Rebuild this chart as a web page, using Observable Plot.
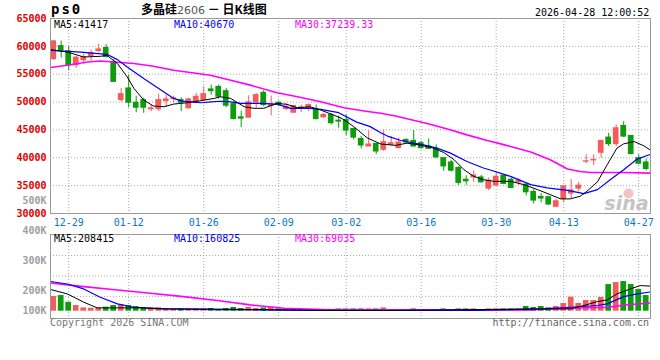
<!DOCTYPE html>
<html><head><meta charset="utf-8">
<script src="https://cdn.jsdelivr.net/npm/d3@7"></script>
<script src="https://cdn.jsdelivr.net/npm/@observablehq/plot@0.6"></script>
<style>
body{margin:0;background:#fff}
#wrap{position:relative;width:660px;height:360px;overflow:hidden;background:#fff;font-family:"DejaVu Sans Mono",monospace;font-size:10px}
.abs{position:absolute;white-space:nowrap;line-height:1}
.panel{position:absolute;left:0}
</style></head><body><div id="wrap"></div>
<script>
// ---- data ----
const dates = ["12-25","12-26","12-29","12-30","12-31",
"01-05","01-06","01-07","01-08","01-09","01-12","01-13","01-14","01-15","01-16",
"01-19","01-20","01-21","01-22","01-23","01-26","01-27","01-28","01-29","01-30",
"02-02","02-03","02-04","02-05","02-06","02-09","02-10","02-11","02-12","02-13",
"02-24","02-25","02-26","02-27",
"03-02","03-03","03-04","03-05","03-06","03-09","03-10","03-11","03-12","03-13",
"03-16","03-17","03-18","03-19","03-20","03-23","03-24","03-25","03-26","03-27",
"03-30","03-31","04-01","04-02","04-03","04-07","04-08","04-09","04-10",
"04-13","04-14","04-15","04-16","04-17","04-20","04-21","04-22","04-23","04-24",
"04-27","04-28"];
const open = [57680,60050,59110,56610,57500,58270,59160,59700,57200,50360,
52450,49880,50360,48700,48700,50180,50540,50360,48880,49880,
50360,52270,52730,51960,49640,47270,47200,49950,51660,49290,
49880,48750,48090,48880,48880,48700,47270,47680,46670,46790,
45180,43390,42020,42500,41430,42320,41730,43210,43040,42620,
42020,41610,39940,39170,38160,36070,36480,36480,34460,35030,
36790,36070,35590,35180,33870,32980,32920,31200,32620,33570,
34460,39300,39520,40900,43630,42440,45710,43930,39940,39170];
const high = [61070,60950,60000,58210,58570,59290,60360,60300,57620,52450,
54820,51070,50660,49460,51430,51250,51070,50770,50660,51550,
52730,53040,53040,52450,50060,48390,51130,51550,52020,51070,
50180,49770,49350,49460,49640,49460,47980,47980,47500,47680,
45300,43800,44820,42560,45000,43800,43520,43390,44880,42910,
43390,42320,39940,39520,38450,36790,37680,36840,36370,37260,
36960,36370,36250,35480,34290,33570,33100,32500,35000,36070,
35590,40540,40540,43040,44410,45890,46490,43930,40540,39760];
const low = [57500,57910,55590,56020,56790,57380,58800,57910,53620,49950,
48980,48090,47980,48270,48270,49050,49880,48270,48750,49770,
50240,51250,50540,48980,46790,45410,47200,48930,49160,47550,
49160,48480,47980,48090,48270,46790,47090,45890,45300,43990,
43210,41610,42020,40540,41130,42200,41610,42500,41910,41550,
41550,39940,37560,37440,35050,35050,35590,35480,34110,34880,
35180,34460,35050,33210,31730,31910,31430,31020,31910,32620,
33870,38930,38570,39940,42020,42020,43630,40540,38750,37680];
const close = [60890,59290,56610,57980,58090,58800,59460,58090,53620,51430,
49880,48980,48980,48880,50360,50480,50660,49880,50480,50950,
51430,51960,50950,49340,46960,47020,49950,51250,49460,49460,
49460,49160,49290,49050,49460,46960,47680,46200,46490,44880,
43630,42200,42380,41130,42800,42620,42740,42740,42020,41730,
41610,40060,38450,37680,35480,35770,36840,35590,35890,36600,
35300,34580,35890,33800,32320,32680,31610,32200,34880,34160,
35000,39370,39640,43040,42440,45300,43800,40660,38930,37980];
const volume = [118500,126600,72600,46000,26600,24200,26600,32300,46000,54000,
46000,37900,26600,26600,26600,18500,18500,18500,18500,18500,
18500,21800,13700,21800,29800,21800,29800,21800,26600,29800,
18500,13000,14000,12000,13000,15000,12000,15000,18500,18500,
18500,18500,18500,18500,26600,10500,10500,11000,18500,11000,
11000,11000,18500,10500,18500,18500,18500,10500,18500,18500,
18500,18500,18500,37900,29800,37900,26600,37900,62100,112900,
62100,86300,86300,110500,215300,231500,239500,215300,175000,126600];

// moving averages: [candle index, value]
const ma5Price = [[-0.4,59410],[1.8,58980],[4,58090],[6.2,58210],[7.1,58390],[8.5,56910],[9.8,54520],[10.7,52450],[12,50360],[13.3,49290],[14.7,49160],[16,49640],[17.8,49880],[19.6,50240],[21.4,50660],[22.2,50950],[23.6,50660],[25.4,49160],[26.7,48880],[28,48880],[29.8,49770],[31.1,49590],[32.5,48980],[34.2,49160],[35.6,48570],[37.3,47680],[38.5,47000],[40,45600],[41.8,43570],[43.6,42470],[45.6,42230],[47.1,42620],[48.7,42320],[50.5,41800],[52,40950],[53.4,39640],[54.7,37860],[56,36660],[57.3,36070],[58.7,35770],[60.9,35770],[62.7,35180],[64.5,34290],[66.2,33390],[67.6,32620],[68.9,32620],[70.2,33100],[71.1,33990],[72.5,35680],[73.8,38750],[75.1,41730],[76,42500],[77.4,42910],[78.7,42140],[79.5,41420]];
const ma10Price = [[-0.4,59290],[3.6,58980],[7.1,58570],[8.5,57620],[9.8,56300],[12,54230],[14.2,52270],[16,50660],[17.1,50180],[19.6,49880],[21,50050],[22.2,50150],[23.6,50050],[24.9,49770],[27.6,49770],[29.8,49640],[31.6,48880],[34.2,48880],[35.6,48700],[38,48100],[40.4,46400],[42.2,45590],[43.6,44500],[44.5,43900],[46.2,43150],[48,42620],[49.3,42320],[51.1,41730],[52.9,40840],[55.1,39340],[57.3,38160],[58.2,37800],[60.9,36660],[63.6,35180],[65.8,34590],[68.5,34160],[70.7,33570],[72.5,34290],[74.2,36070],[76,37860],[77.8,39770],[79.5,40600]];
const ma30Price = [[-0.4,56200],[1.8,56600],[4.5,57200],[6.2,57380],[8,57200],[10.7,56910],[13.3,56430],[16,55710],[18.7,55230],[20.9,54820],[23.6,53930],[26.2,53040],[29.8,51660],[32.5,50950],[35.6,50050],[38.7,48980],[41.4,48400],[43.6,47980],[45.6,47500],[47.4,46910],[49.8,46150],[52.5,45180],[55.1,44110],[57.8,43090],[59.6,42500],[60.9,42020],[63.6,41020],[66.2,39640],[68.5,37980],[70.2,37550],[71.6,37370],[76,37370],[79.5,37240]];
const ma5Vol = [[-0.4,175000],[1.8,140000],[4,73000],[5.8,27000],[8.5,27000],[11.6,27000],[14.2,18500],[19.6,18500],[30.7,10500],[34.7,6000],[45.8,6000],[64.9,18500],[68.9,18500],[70.7,46000],[72.5,78000],[73.8,91000],[75.1,140000],[76.9,180000],[78.2,207000],[79.5,203000]];
const ma10Vol = [[-0.4,240000],[1.8,220000],[4,180000],[6.2,113000],[8.5,59000],[10.7,32000],[15.1,18500],[19.6,13700],[36.9,6000],[56.5,6000],[59.1,10500],[65.3,18500],[68.9,32000],[72.5,46000],[73.8,59000],[76,118000],[77.8,140000],[79.5,155000]];
const ma30Vol = [[-0.4,228000],[4,199000],[8.5,172000],[12.9,145000],[17.3,118000],[21.8,86000],[26.2,51000],[30.7,24000],[36.9,10500],[63.6,10500],[65.3,18500],[68.9,24000],[73.8,32000],[74.7,38000],[76.9,54000],[79.5,66000]];

const priceTicks = [30000,35000,40000,45000,50000,55000,60000,65000];
const priceGrid = [35000,40000,45000,50000,55000,60000];
const tickLabels = ["12-29","01-12","01-26","02-09","03-02","03-16","03-30","04-13","04-27"];
const volTicks = [100000,200000,300000,400000,500000];
const volGrid = [120000,285000,450000];
const priceLegend = ["MA5:41417","MA10:40670","MA30:37239.33"];
const volLegend = ["MA5:208415","MA10:160825","MA30:69035"];
const header = {code:"ps0", name:"多晶硅", contract:"2606", kind:"日K线图", time:"2026-04-28 12:00:52"};
const footer = ["Copyright 2026 SINA.COM","http://finance.sina.com.cn"];

// ---- styles ----
const RED = "#f65b5b", GREEN = "#0c9c0c";
const GRID = {stroke:"#a8a8a8", strokeOpacity:1, strokeDasharray:"1,2"};
const FONT = {fontFamily:"'DejaVu Sans Mono', monospace", fontSize:"10px", background:"transparent", overflow:"visible"};
const xDomain = [-0.427, 79.573];

const candles = dates.map((d,i)=>({i, date:d, open:open[i], high:high[i], low:low[i], close:close[i], vol:volume[i]}));
const col = d => d.close >= d.open ? RED : GREEN;
const tickIdx = tickLabels.map(t => dates.indexOf(t));
const fmtDate = i => dates[i];

const wrap = document.getElementById("wrap");
function place(el, top, left){ const d=document.createElement("div"); d.className="panel"; d.style.top=top+"px"; d.style.left=(left||0)+"px"; d.appendChild(el); wrap.appendChild(d); }
function txt(html, css){ const d=document.createElement("div"); d.className="abs"; d.style.cssText+=css; d.innerHTML=html; wrap.appendChild(d); }

// ---- main price panel ----
const main = Plot.plot({
  width:660, height:232, marginTop:18, marginBottom:19, marginLeft:50, marginRight:10,
  style: FONT,
  x:{domain:xDomain},
  y:{domain:[30000,65000]},
  color:{type:"identity"},
  marks:[
    Plot.gridY(priceGrid, GRID),
    Plot.gridX(tickIdx, GRID),
    Plot.axisY(priceTicks, {tickSize:0, tickPadding:4, color:"#e00000", fontWeight:"bold", label:null, tickFormat:d=>String(d)}),
    Plot.axisX(tickIdx, {tickSize:0, tickPadding:5, color:"#0a78c8", label:null, tickFormat:fmtDate}),
    Plot.dot([0], {frameAnchor:"bottom-right", dx:-22, dy:-20, r:5, fill:"#f4c4c4", stroke:"none"}),
    Plot.text(["sina"], {text:d=>d, frameAnchor:"bottom-right", dx:-2, dy:-4, fill:"#c4c4c4", fontSize:19, fontWeight:"bold", fontStyle:"italic", fontFamily:"'DejaVu Sans', sans-serif"}),
    Plot.ruleX(candles, {x:"i", y1:"low", y2:"high", stroke:col, strokeWidth:1}),
    Plot.rect(candles, {x1:d=>d.i-0.38, x2:d=>d.i+0.38, y1:"open", y2:"close", fill:col, insetTop:-0.5, insetBottom:-0.5}),
    Plot.line(ma30Price, {x:d=>d[0], y:d=>d[1], stroke:"#ff00ff", strokeWidth:1.6}),
    Plot.line(ma10Price, {x:d=>d[0], y:d=>d[1], stroke:"#0000ff", strokeWidth:1.2}),
    Plot.line(ma5Price, {x:d=>d[0], y:d=>d[1], stroke:"#000000", strokeWidth:1}),
    Plot.frame({stroke:"#999"})
  ]
});
place(main, 0);

// ---- volume panel ----
const vol = Plot.plot({
  width:660, height:128, marginTop:2, marginBottom:42, marginLeft:50, marginRight:10,
  style: FONT,
  x:{domain:xDomain, axis:null},
  y:{domain:[0,620000], insetBottom:7.3, axis:null},
  color:{type:"identity"},
  marks:[
    Plot.gridY(volGrid, GRID),
    Plot.gridX(tickIdx, GRID),
    Plot.rect(candles, {x1:d=>d.i-0.38, x2:d=>d.i+0.38, y1:0, y2:"vol", fill:col}),
    Plot.line(ma30Vol, {x:d=>d[0], y:d=>d[1], stroke:"#ff00ff", strokeWidth:1.6}),
    Plot.line(ma10Vol, {x:d=>d[0], y:d=>d[1], stroke:"#0000ff", strokeWidth:1.2}),
    Plot.line(ma5Vol, {x:d=>d[0], y:d=>d[1], stroke:"#000000", strokeWidth:1}),
    Plot.frame({stroke:"#999"})
  ]
});
place(vol, 232);

// ---- volume axis labels (Sina places them on its own stretched scale) ----
const volAxis = Plot.plot({
  width:52, height:360, marginTop:0, marginBottom:0, marginLeft:50, marginRight:2,
  style: FONT,
  y:{domain:[135700,535700], range:[310,190], clamp:true},
  marks:[ Plot.axisY(volTicks, {tickSize:0, tickPadding:4, color:"#a0a0a0", fontWeight:"bold", label:null, tickFormat:d=>(d/1000)+"K"}) ]
});
place(volAxis, 0);

// ---- texts ----
txt(header.code, "left:51px;top:2px;font:bold 14px 'DejaVu Sans Mono',monospace;letter-spacing:2px;color:#000;line-height:14px");
txt(`<span style="font-weight:bold">${header.name}</span><span style="font:11px 'DejaVu Sans',sans-serif;color:#555;line-height:12px">${header.contract}</span><span style="font-weight:bold"> － ${header.kind}</span>`,
    "left:141px;top:3px;font:12px 'Noto Sans CJK SC',sans-serif;color:#000;line-height:12px;height:12px;overflow:visible");
txt(header.time, "left:535px;top:8px;color:#000");
const legendX = [54,174,295], legendC = ["#000","#0000ff","#ff00ff"];
priceLegend.forEach((t,k)=>txt(t, `left:${legendX[k]}px;top:19.5px;color:${legendC[k]}`));
volLegend.forEach((t,k)=>txt(t, `left:${legendX[k]}px;top:234px;color:${legendC[k]}`));
txt(footer[0], "left:50px;top:318px;color:#777");
txt(footer[1], "right:11px;top:318px;color:#666");
</script></body></html>
